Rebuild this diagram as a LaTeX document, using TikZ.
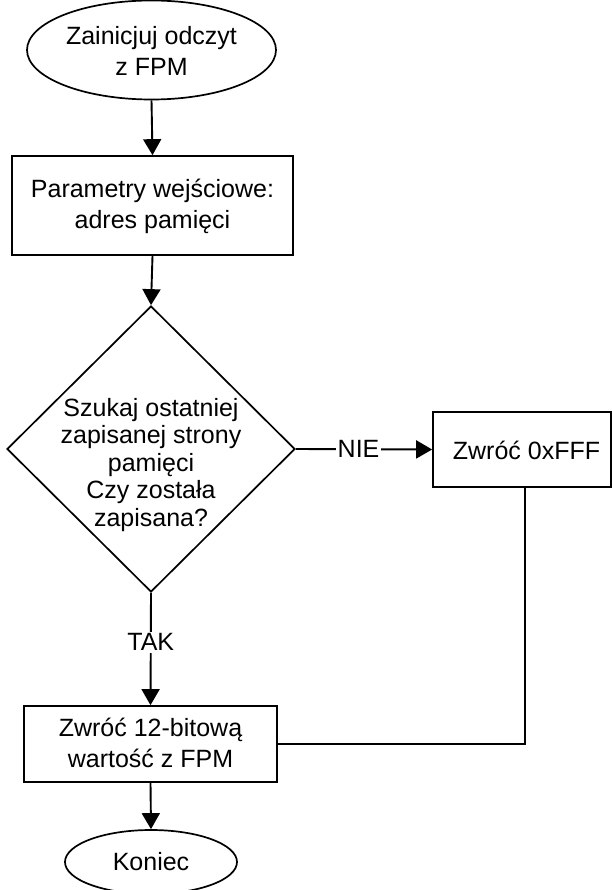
\documentclass[tikz,border=0pt]{standalone}
\usepackage{fontspec}
\setmainfont{Liberation Sans}
\usetikzlibrary{shapes.geometric,arrows.meta}
\begin{document}
\begin{tikzpicture}[x=1pt,y=-1pt,
  every node/.style={font=\fontsize{25}{31}\selectfont},
  shapeline/.style={draw=black,line width=1.7pt},
  term/.style={shapeline,ellipse,inner sep=0pt},
  proc/.style={shapeline,rectangle,inner sep=0pt},
  txt/.style={align=center,inner sep=0pt},
  conn/.style={line width=1.9pt,-{Triangle[width=18pt,length=16pt]}},
  plain/.style={line width=1.9pt},
  lbl/.style={fill=white,inner sep=2pt}]
\useasboundingbox (0,0) rectangle (611,890);
\node[term,minimum width=249pt,minimum height=99pt] (start) at (151.5,50) {};
\node[txt] (starttext) at (151.5,51) {Zainicjuj odczyt\\z FPM};
\node[proc,minimum width=281pt,minimum height=99pt] (box1) at (152.5,205.5) {};
\node[txt] (box1text) at (152.5,206) {Parametry wejściowe:\\adres pamięci};
\node[shapeline,diamond,inner sep=0pt,minimum width=288pt,minimum height=286pt] (dec) at (151,449) {};
\node[txt,font=\fontsize{25}{27.5}\selectfont] (dectext) at (151,465) {Szukaj ostatniej\\zapisanej strony\\pamięci\\Czy została\\zapisana?};
\node[proc,minimum width=178pt,minimum height=75pt] (no) at (522,449.5) {};
\node[txt] (notext) at (526.5,450) {Zwróć 0xFFF};
\node[proc,minimum width=253pt,minimum height=76pt] (box2) at (150.5,744) {};
\node[txt] (box2text) at (150.5,743) {Zwróć 12-bitową\\wartość z FPM};
\node[term,minimum width=172pt,minimum height=64pt] (end) at (151,862) {};
\node[txt] (endtext) at (151,862) {Koniec};
\draw[conn] (start.south) -- (box1.north);
\draw[conn] (box1.south) -- (dec.north);
\draw[conn] (dec.east) -- node[lbl,pos=0.46] {NIE} (no.west);
\draw[conn] (dec.south) -- node[lbl,pos=0.44] {TAK} (box2.north);
\draw[plain] ([xshift=3pt]no.south) |- (box2.east);
\draw[conn] (box2.south) -- (end.north);
\end{tikzpicture}
\end{document}
